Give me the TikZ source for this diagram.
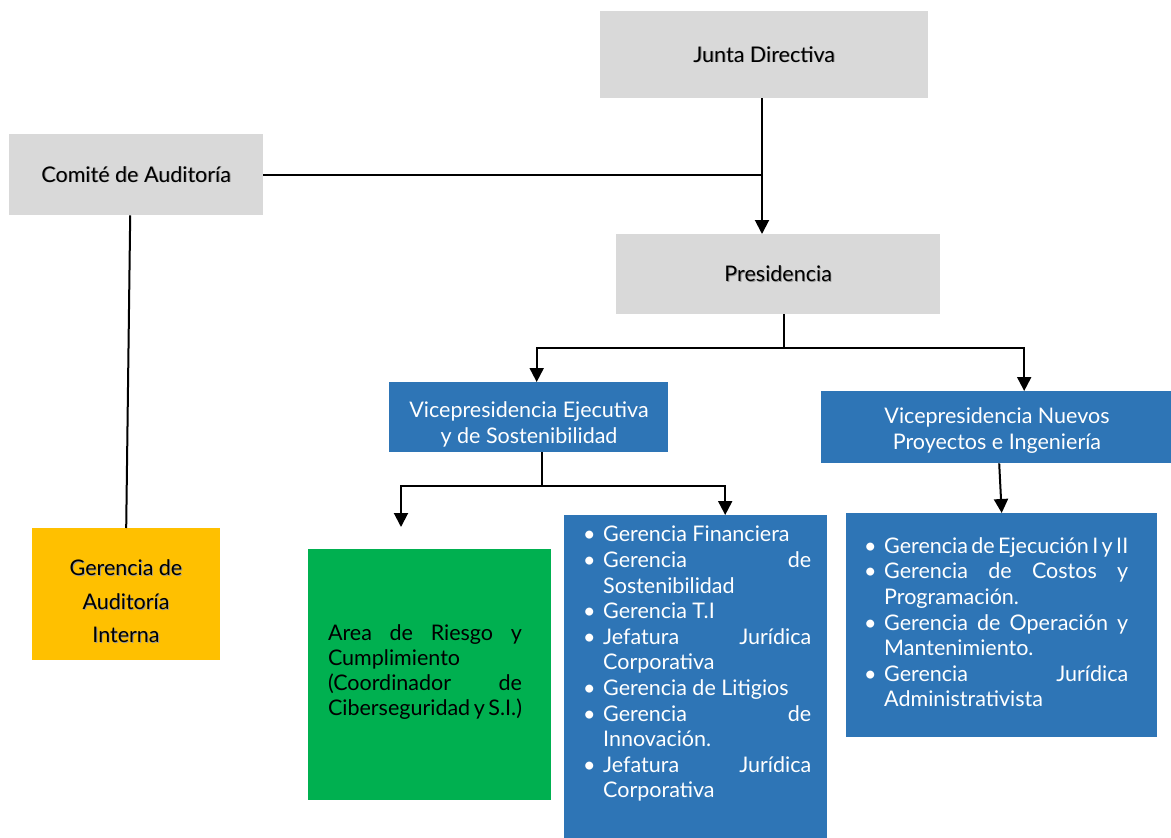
\documentclass[tikz,border=0pt]{standalone}
\usepackage{fontspec}
\setmainfont{Lato}
\usetikzlibrary{arrows.meta}
\definecolor{boxgray}{HTML}{D9D9D9}
\definecolor{vpblue}{HTML}{2E75B6}
\definecolor{boxgreen}{HTML}{00B050}
\definecolor{boxyellow}{HTML}{FFC000}
\newcommand\nohyph{\hyphenpenalty=10000\exhyphenpenalty=10000\tolerance=10000\hbadness=10000\hfuzz=30pt\emergencystretch=0pt\parindent=0pt\parskip=0pt}
\newcommand\orgitem[1]{\par\noindent\hangindent=16pt\hangafter=1\strut\makebox[16pt][l]{\hspace{-4pt}\textbullet}#1}
\newcommand\tightline[2]{\makebox[#1][s]{\spaceskip=2pt plus 8pt #2}}
\newcommand\shd[1]{\makebox[0pt][l]{\hspace{0.9pt}\raisebox{-0.9pt}{\color{black!40}#1}}#1}
\tikzset{
  box/.style={inner sep=0pt, anchor=north west},
  graybox/.style={box, fill=boxgray, text=black, font=\fontsize{21.5}{26}\selectfont},
  bluebox/.style={box, fill=vpblue},
  txt/.style={inner sep=0pt, align=center, font=\fontsize{21.5}{26}\selectfont},
  listtext/.style={inner sep=0pt, anchor=north west, text=white, align=justify, font=\fontsize{21.5}{25.6}\selectfont\nohyph},
  conn/.style={line width=2pt, black},
  arr/.style={conn, -{Triangle[width=14pt,length=14pt]}},
}
\begin{document}
\begin{tikzpicture}[x=1pt,y=-1pt]
\useasboundingbox (0,0) rectangle (1171,838);
% boxes
\node[graybox, minimum width=328, minimum height=87] (junta) at (600,11) {\shd{Junta Directiva}};
\node[graybox, minimum width=254, minimum height=81] (comite) at (9,134) {\shd{Comité de Auditoría}};
\node[graybox, minimum width=324, minimum height=80] (pres) at (616,234) {\shd{Presidencia}};
\node[bluebox, minimum width=279, minimum height=70] (vpe) at (389,382) {};
\node[bluebox, minimum width=350, minimum height=72] (vpn) at (821,391) {};
\node[box, fill=boxgreen, minimum width=243, minimum height=251] (riesgo) at (308,549) {};
\node[bluebox, minimum width=263, minimum height=330] (lista1) at (564,515) {};
\node[bluebox, minimum width=311, minimum height=224] (lista2) at (846,513) {};
\node[box, fill=boxyellow, minimum width=188, minimum height=132] (audint) at (32,528) {};
% texts
\node[txt, text=white] (vpetxt) at (529,424) {Vicepresidencia Ejecutiva\\y de Sostenibilidad};
\node[txt, text=white] (vpntxt) at (997,431) {Vicepresidencia Nuevos\\Proyectos e Ingeniería};
\node[txt, font=\fontsize{21.5}{33.5}\selectfont] (audinttxt) at (126,602) {\shd{Gerencia de}\\\shd{Auditoría}\\\shd{Interna}};
\node[inner sep=0pt, text width=194, align=justify, anchor=center, font=\fontsize{21.5}{25.3}\selectfont\nohyph] (riesgotxt) at (425,672)
  {Area de Riesgo y\linebreak Cumplimiento\linebreak (Coordinador de\linebreak \tightline{194pt}{Ciberseguridad y S.I.)}};
\node[listtext, text width=224] (lista1txt) at (587,516) {%
  \orgitem{Gerencia Financiera}
  \orgitem{Gerencia de\linebreak Sostenibilidad}
  \orgitem{Gerencia T.I}
  \orgitem{Jefatura Jurídica\linebreak Corporativa}
  \orgitem{Gerencia de Litigios}
  \orgitem{Gerencia de\linebreak Innovación.}
  \orgitem{Jefatura Jurídica\linebreak Corporativa}\par};
\node[listtext, text width=260] (lista2txt) at (868,527.5) {%
  \orgitem{\tightline{244pt}{Gerencia de Ejecución I y II}}
  \orgitem{Gerencia de Costos y\linebreak Programación.}
  \orgitem{Gerencia de Operación y\linebreak Mantenimiento.}
  \orgitem{Gerencia Jurídica\linebreak Administrativista}\par};
% connectors
\draw[arr] (junta.south -| 762,0) -- (pres.north -| 762,0);
\draw[conn] (comite.east) -- (comite.east -| 762,0);
\draw[conn] ([xshift=-6]comite.south) -- (audint.north);
\draw[conn] ([xshift=6]pres.south) -- ++(0,34) coordinate (pj);
\draw[arr] (pj) -| ([xshift=8]vpe.north);
\draw[arr] (pj) -| ([xshift=28]vpn.north);
\draw[conn] ([xshift=13.5]vpe.south) -- ++(0,34) coordinate (vj);
\coordinate (riesgoarrow) at (401,527);
\draw[arr] (vj) -| (riesgoarrow);
\draw[arr] (vj) -| ([xshift=29.5]lista1.north);
\draw[arr] ([xshift=3]vpn.south) -- (lista2.north);
\end{tikzpicture}
\end{document}
